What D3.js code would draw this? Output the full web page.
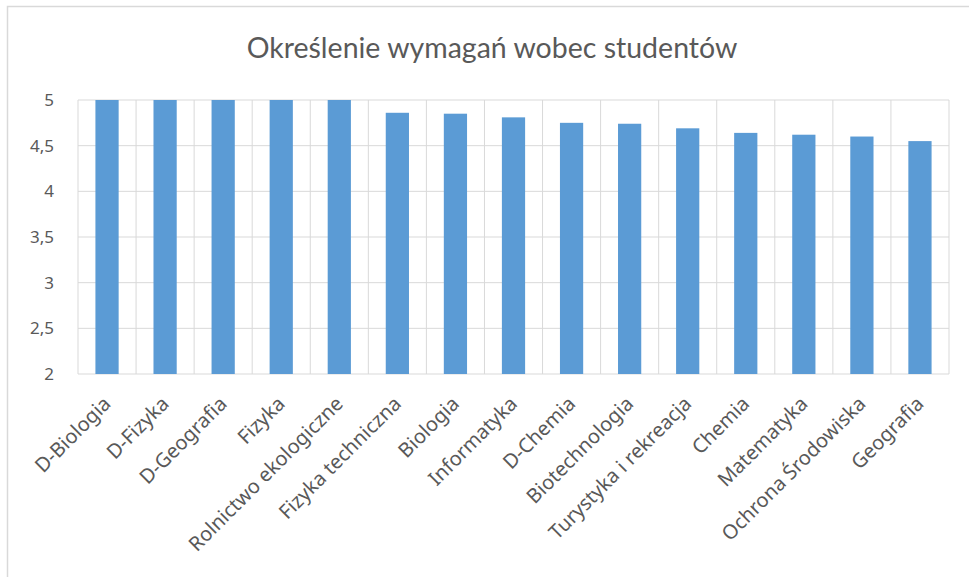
<!DOCTYPE html>
<html>
<head>
<meta charset="utf-8">
<script src="https://cdn.jsdelivr.net/npm/d3@7"></script>
<style>
  body { margin: 0; background: #fff; }
  svg text { font-family: "Noto Sans", sans-serif; fill: #595959; }
</style>
</head>
<body>
<div id="chart"></div>
<script>
const categories = ["D-Biologia", "D-Fizyka", "D-Geografia", "Fizyka", "Rolnictwo ekologiczne",
  "Fizyka techniczna", "Biologia", "Informatyka", "D-Chemia", "Biotechnologia",
  "Turystyka i rekreacja", "Chemia", "Matematyka", "Ochrona Środowiska", "Geografia"];
const values = [5, 5, 5, 5, 5, 4.86, 4.85, 4.81, 4.75, 4.74, 4.69, 4.64, 4.62, 4.6, 4.55];
const yTicks = [2, 2.5, 3, 3.5, 4, 4.5, 5];
const title = "Określenie wymagań wobec studentów";

const width = 969, height = 577;
const margin = { top: 100, right: 20, bottom: 203, left: 78 };

const svg = d3.select("#chart").append("svg")
  .attr("width", width)
  .attr("height", height);

// chart frame
svg.append("rect")
  .attr("x", 7.5).attr("y", 6.5)
  .attr("width", width + 10).attr("height", height + 10)
  .style("fill", "none")
  .style("stroke", "#d9d9d9")
  .style("stroke-width", 1.5);

svg.append("text")
  .attr("x", 492).attr("y", 58)
  .style("text-anchor", "middle")
  .style("font-family", "Lato, sans-serif")
  .style("font-size", "28.5px")
  .text(title);

const x = d3.scaleBand()
  .domain(categories)
  .range([margin.left, width - margin.right])
  .paddingInner(0.6)
  .paddingOuter(0.3);

const y = d3.scaleLinear()
  .domain([2, 5])
  .range([height - margin.bottom, margin.top]);

const g = svg.append("g");

// horizontal gridlines
g.selectAll(".hgrid")
  .data(yTicks)
  .enter()
  .append("line")
  .attr("x1", margin.left).attr("x2", width - margin.right)
  .attr("y1", d => y(d)).attr("y2", d => y(d))
  .style("stroke", "#d9d9d9")
  .style("stroke-width", 1);

// vertical gridlines between categories
const edges = d3.range(categories.length + 1).map(i => margin.left + i * (width - margin.left - margin.right) / categories.length);
g.selectAll(".vgrid")
  .data(edges)
  .enter()
  .append("line")
  .attr("x1", d => d).attr("x2", d => d)
  .attr("y1", y(5)).attr("y2", y(2))
  .style("stroke", "#d9d9d9")
  .style("stroke-width", 1);

// bars
g.selectAll(".bar")
  .data(values)
  .enter()
  .append("rect")
  .attr("x", (d, i) => x(categories[i]))
  .attr("width", x.bandwidth())
  .attr("y", d => y(d))
  .attr("height", d => y(2) - y(d))
  .style("fill", "#5b9bd5");

// y axis labels
g.selectAll(".ylab")
  .data(yTicks)
  .enter()
  .append("text")
  .attr("x", 54)
  .attr("y", d => y(d))
  .attr("dy", "0.35em")
  .style("text-anchor", "end")
  .style("font-size", "17px")
  .text(d => String(d).replace(".", ","));

// x axis labels rotated
g.selectAll(".xlab")
  .data(categories)
  .enter()
  .append("text")
  .attr("transform", d => "translate(" + (x(d) + x.bandwidth() / 2 + 5) + "," + (y(2) + 31) + ") rotate(-45)")
  .style("text-anchor", "end")
  .style("font-size", "20px")
  .text(d => d);
</script>
</body>
</html>
